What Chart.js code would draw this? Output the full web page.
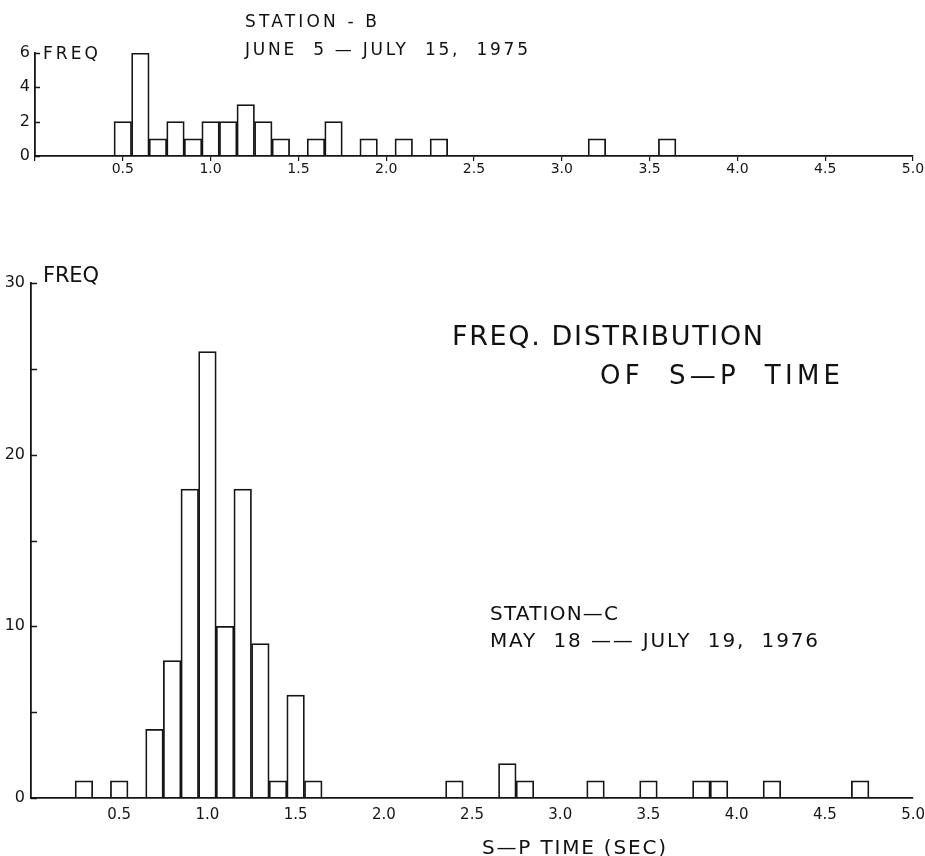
<!DOCTYPE html>
<html>
<head>
<meta charset="utf-8">
<script src="https://cdn.jsdelivr.net/npm/chart.js@4.4.1/dist/chart.umd.min.js"></script>
<style>
  body { margin: 0; background: #fff; }
  #page { position: relative; width: 925px; height: 856px; overflow: hidden; font-family: "DejaVu Sans", sans-serif; color: #111; }
  .box { position: absolute; left: 0; width: 925px; }
  .note { position: absolute; white-space: pre; line-height: 1; }
</style>
</head>
<body>
<div id="page">
  <div class="box" style="top:0;height:200px"><canvas id="chartB" width="925" height="200"></canvas></div>
  <div class="box" style="top:200px;height:656px"><canvas id="chartC" width="925" height="656"></canvas></div>

  <div class="note" data-left="245" data-cap="15" data-size="17" data-w="132">STATION - B</div>
  <div class="note" data-left="245" data-cap="43" data-size="17" data-w="283">JUNE  5 — JULY  15,  1975</div>
  <div class="note" data-left="43" data-cap="47" data-size="17" data-w="55">FREQ</div>
  <div class="note" data-left="43" data-cap="267" data-size="21" data-w="56">FREQ</div>
  <div class="note" data-left="452" data-cap="325" data-size="27" data-w="311">FREQ. DISTRIBUTION</div>
  <div class="note" data-left="600" data-cap="365" data-size="26" data-w="240">OF  S—P  TIME</div>
  <div class="note" data-left="490" data-cap="605" data-size="20" data-w="128">STATION—C</div>
  <div class="note" data-left="490" data-cap="632" data-size="20" data-w="328">MAY  18 —— JULY  19,  1976</div>
  <div class="note" data-left="482" data-cap="839" data-size="20" data-w="184">S—P TIME (SEC)</div>
</div>
<script>
// S-P time bins (sec) and frequencies
const stationBTimes  = [0.5, 0.6, 0.7, 0.8, 0.9, 1.0, 1.1, 1.2, 1.3, 1.4, 1.6, 1.7, 1.9, 2.1, 2.3, 3.2, 3.6];
const stationBCounts = [2,   6,   1,   2,   1,   2,   2,   3,   2,   1,   1,   2,   1,   1,   1,   1,   1];

const stationCTimes  = [0.3, 0.5, 0.7, 0.8, 0.9, 1.0, 1.1, 1.2, 1.3, 1.4, 1.5, 1.6, 2.4, 2.7, 2.8, 3.2, 3.5, 3.8, 3.9, 4.2, 4.7];
const stationCCounts = [1,   1,   4,   8,   18,  26,  10,  18,  9,   1,   6,   1,   1,   2,   1,   1,   1,   1,   1,   1,   1];

const xTicks = [0, 0.5, 1.0, 1.5, 2.0, 2.5, 3.0, 3.5, 4.0, 4.5, 5.0];
const stationBYTicks = [0, 2, 4, 6];
const stationCYTicks = [0, 5, 10, 15, 20, 25, 30];
const stationCYLabels = [0, 10, 20, 30];

const INK = '#151515';

// y ticks point into the plot, like the hand-drafted original
const innerTicks = {
  id: 'innerTicks',
  afterDraw(chart, args, opts) {
    const ctx = chart.ctx;
    const y = chart.scales.y;
    ctx.save();
    ctx.strokeStyle = INK;
    ctx.lineWidth = 1.5;
    y.ticks.forEach(t => {
      const py = Math.round(y.getPixelForValue(t.value)) + 0.5;
      ctx.beginPath();
      ctx.moveTo(y.right, py);
      ctx.lineTo(y.right + opts.len, py);
      ctx.stroke();
    });
    ctx.restore();
  }
};

function makeHistogram(id, times, counts, yTicks, yMax, yLabel, layout) {
  return new Chart(document.getElementById(id), {
    type: 'bar',
    data: {
      datasets: [{
        data: times.map((t, i) => ({ x: t, y: counts[i] })),
        backgroundColor: 'rgba(0,0,0,0)',
        borderColor: INK,
        borderWidth: 1.1,
        barPercentage: 1,
        categoryPercentage: 1
      }]
    },
    options: {
      responsive: false,
      animation: false,
      events: [],
      layout: { padding: { top: layout.top, right: layout.right, left: 0, bottom: 0 } },
      plugins: { legend: { display: false }, tooltip: { enabled: false }, innerTicks: { len: layout.tickLen } },
      scales: {
        x: {
          type: 'linear',
          min: 0,
          max: 5,
          offset: false,
          afterFit: s => { s.height = layout.xHeight; },
          afterBuildTicks: s => { s.ticks = xTicks.map(v => ({ value: v })); },
          border: { display: true, color: INK, width: 1.8 },
          grid: { offset: false, drawOnChartArea: false, drawTicks: true, tickLength: layout.xTickLen, tickColor: layout.xTickColor, lineWidth: 1.2 },
          ticks: {
            color: INK,
            padding: 0,
            maxRotation: 0,
            autoSkip: false,
            font: { family: 'DejaVu Sans', size: layout.xFont },
            callback: v => v === 0 ? '' : Number(v).toFixed(1)
          }
        },
        y: {
          min: 0,
          max: yMax,
          afterFit: s => { s.width = layout.left; },
          afterBuildTicks: s => { s.ticks = yTicks.map(v => ({ value: v })); },
          border: { display: true, color: INK, width: 1.8 },
          grid: { drawOnChartArea: false, drawTicks: false },
          ticks: {
            color: INK,
            padding: layout.yPad,
            font: { family: 'DejaVu Sans', size: 16 },
            callback: v => yLabel(v)
          }
        }
      }
    },
    plugins: [innerTicks]
  });
}

function placeNotes() {
  document.querySelectorAll('.note').forEach(el => {
    const size = +el.dataset.size;
    el.style.fontSize = size + 'px';
    el.style.left = el.dataset.left + 'px';
    el.style.top = (+el.dataset.cap - 0.117 * size) + 'px';
    el.style.letterSpacing = '0px';
    const w = el.getBoundingClientRect().width;
    const n = el.textContent.length;
    el.style.letterSpacing = ((+el.dataset.w - w) / Math.max(n - 1, 1)) + 'px';
  });
}

placeNotes();

makeHistogram('chartB', stationBTimes, stationBCounts, stationBYTicks, 6, v => v, {
  top: 53, right: 12, left: 35, xHeight: 44, xTickLen: 5, xTickColor: INK, xFont: 14, yPad: 5, tickLen: 5
});

makeHistogram('chartC', stationCTimes, stationCCounts, stationCYTicks, 30,
  v => stationCYLabels.includes(v) ? v : '', {
  top: 83, right: 11, left: 31, xHeight: 58, xTickLen: 8, xTickColor: 'rgba(0,0,0,0)', xFont: 15, yPad: 6, tickLen: 6
});
</script>
</body>
</html>
